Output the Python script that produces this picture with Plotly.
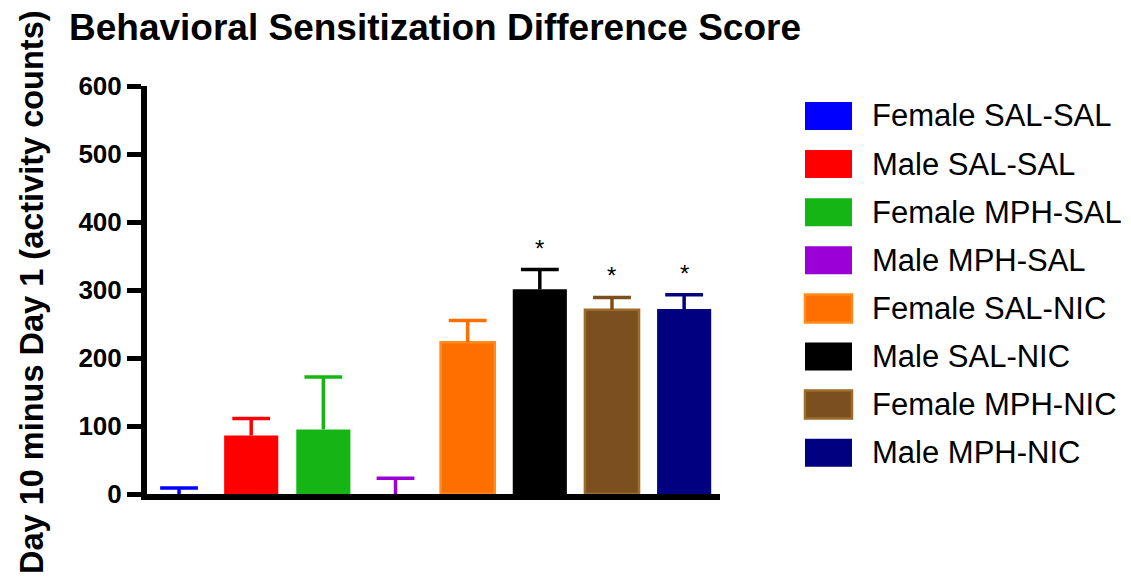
import plotly.graph_objects as go

groups = ["Female SAL-SAL", "Male SAL-SAL", "Female MPH-SAL", "Male MPH-SAL",
          "Female SAL-NIC", "Male SAL-NIC", "Female MPH-NIC", "Male MPH-NIC"]
means = [0, 86, 95, 0, 223, 301, 271, 272]
sems = [9, 25, 77, 23, 32, 29, 18, 21]
significant = [False, False, False, False, False, True, True, True]
y_ticks = [0, 100, 200, 300, 400, 500, 600]

fill_colors = ["#0000FF", "#FF0000", "#14B514", "#9B00D6",
               "#FF6F00", "#000000", "#7B501E", "#000080"]
edge_colors = ["#0000FF", "#FF0000", "#14B514", "#9B00D6",
               "#FF8A1E", "#000000", "#9C6C2C", "#000080"]
edge_widths = [0, 0, 0, 0, 2.5, 0, 2.5, 0]

FONT = "Liberation Sans, Arial, Helvetica, sans-serif"

fig = go.Figure()
for g, m, s, fc, ec, ew in zip(groups, means, sems, fill_colors, edge_colors, edge_widths):
    fig.add_trace(go.Bar(
        x=[g], y=[m], width=0.75,
        marker=dict(color=fc, line=dict(color=ec, width=ew)),
        showlegend=False, name=g,
    ))
    # upper error bar: stem from mean to mean+SEM, cap drawn as a line marker
    fig.add_trace(go.Scatter(
        x=[g], y=[m + s], mode="markers",
        marker=dict(symbol="line-ew", size=27, line=dict(width=3.5, color=fc)),
        error_y=dict(type="data", array=[0], arrayminus=[s], symmetric=False,
                     color=fc, thickness=3.5, width=0),
        showlegend=False, hoverinfo="skip",
    ))

# significance stars
for g, m, s, sig in zip(groups, means, sems, significant):
    if sig:
        fig.add_annotation(x=g, y=m + s, xref="x", yref="y", text="*",
                           showarrow=False, yanchor="bottom", yshift=6,
                           font=dict(family=FONT, size=24, color="black"))

# plot-area geometry (pixels) used for placing legend/title outside plot
L, R, T, B = 147, 411, 86, 86
W = 1131 - L - R
H = 580 - T - B

def px_x(px):
    return (px - L) / W

def px_y(py):
    return (580 - B - py) / H

# manual legend with large swatches
for i, (g, fc, ec) in enumerate(zip(groups, fill_colors, edge_colors)):
    cy = 116 + 48.1 * i
    fig.add_shape(type="rect", xref="paper", yref="paper",
                  x0=px_x(805), x1=px_x(852), y0=px_y(cy + 14), y1=px_y(cy - 14),
                  fillcolor=fc, line=dict(color=ec, width=2.5 if ec != fc else 0))
    fig.add_annotation(xref="paper", yref="paper", x=px_x(870), y=px_y(cy),
                       xanchor="left", yanchor="middle", text=g, showarrow=False,
                       font=dict(family=FONT, size=31, color="black"))

# title
fig.add_annotation(xref="paper", yref="paper", x=px_x(67), y=px_y(27),
                   xanchor="left", yanchor="middle",
                   text="<b>Behavioral Sensitization Difference Score</b>",
                   showarrow=False, font=dict(family=FONT, size=37, color="black"))

# y axis title
fig.add_annotation(xref="paper", yref="paper", x=px_x(32), y=px_y(292),
                   xanchor="center", yanchor="middle", textangle=-90,
                   text="<b>Day 10 minus Day 1 (activity counts)</b>",
                   showarrow=False, font=dict(family=FONT, size=32.5, color="black"))

fig.update_layout(
    width=1131, height=580,
    margin=dict(l=L, r=R, t=T, b=B, pad=0),
    plot_bgcolor="white", paper_bgcolor="white",
    barmode="overlay",
    font=dict(family=FONT, color="black"),
    xaxis=dict(range=[-0.444, 7.497], showticklabels=False, ticks="",
               showline=True, linecolor="black", linewidth=6, showgrid=False,
               zeroline=False, fixedrange=True),
    yaxis=dict(range=[0, 600], tickvals=y_ticks, ticks="outside", ticklen=14,
               tickwidth=5, tickcolor="black", showline=True, linecolor="black",
               linewidth=6, showgrid=False, zeroline=False,
               tickfont=dict(family=FONT, size=26, color="black", weight="bold")),
)

fig.write_html("out.html", config={"displayModeBar": False},
               post_script="document.body.style.margin='0';document.body.style.overflow='hidden';")
